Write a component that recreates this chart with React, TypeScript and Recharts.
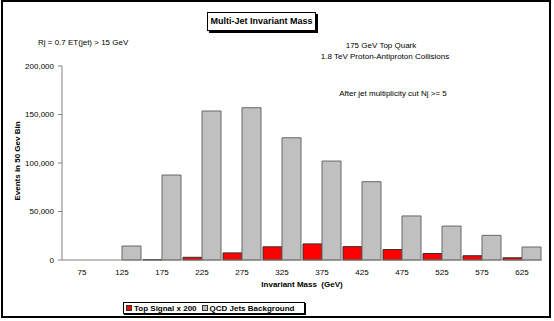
import { BarChart, Bar, XAxis, YAxis } from "recharts";

const masses = [75, 125, 175, 225, 275, 325, 375, 425, 475, 525, 575, 625];
const topSignal = [0, 0, 400, 2800, 7300, 13600, 16600, 13800, 10800, 6700, 4400, 2300];
const qcdBackground = [0, 14400, 87600, 153600, 157000, 126000, 102000, 80700, 45400, 35000, 25400, 13400];
const binEdges = [100, 150, 200, 250, 300, 350, 400, 450, 500, 550, 600, 650];
const yTicks = [0, 50000, 100000, 150000, 200000];

const SERIES = [
  { key: "top", name: "Top Signal x 200", fill: "#ff0000", stroke: "#333333" },
  { key: "qcd", name: "QCD Jets Background", fill: "#c0c0c0", stroke: "#666666" },
];

const FONT = '"Liberation Sans", Arial, sans-serif';

const data = masses.map((m, i) => ({
  mass: m,
  top: topSignal[i],
  qcd: qcdBackground[i],
}));

const txt = (extra: React.CSSProperties): React.CSSProperties => ({
  position: "absolute",
  fontFamily: FONT,
  fontSize: 8,
  color: "#000",
  whiteSpace: "nowrap",
  lineHeight: "10px",
  ...extra,
});

export default function App() {
  return (
    <div
      style={{
        position: "absolute",
        left: 0,
        top: 0,
        width: 554,
        height: 321,
        background: "#fff",
        fontFamily: FONT,
      }}
    >
      <BarChart
        width={554}
        height={321}
        data={data}
        margin={{ top: 66, right: 12, bottom: 37, left: 12 }}
        barCategoryGap={1}
        barGap={0}
      >
        <XAxis
          xAxisId="b_cat"
          dataKey="mass"
          type="category"
          axisLine={false}
          tickLine={false}
          tickSize={0}
          tickMargin={5}
          height={20}
          interval={0}
          tick={{ fontSize: 8, fill: "#000", fontFamily: FONT }}
        />
        <XAxis
          xAxisId="a_edges"
          type="number"
          dataKey="mass"
          domain={[50, 650]}
          ticks={binEdges}
          tick={false}
          tickSize={4}
          height={4}
          stroke="#808080"
          allowDataOverflow
        />
        <YAxis
          width={50}
          domain={[0, 200000]}
          ticks={yTicks}
          tickSize={4}
          tickMargin={4}
          stroke="#808080"
          tickFormatter={(v: number) => v.toLocaleString("en-US")}
          tick={{ fontSize: 8, fill: "#000", fontFamily: FONT }}
        />
        {SERIES.map((s) => (
          <Bar
            key={s.key}
            xAxisId="b_cat"
            dataKey={s.key}
            name={s.name}
            fill={s.fill}
            stroke={s.stroke}
            strokeWidth={1}
            isAnimationActive={false}
          />
        ))}
      </BarChart>

      {/* outer frame */}
      <div
        style={{
          position: "absolute",
          left: 1,
          top: 0,
          width: 550,
          height: 318,
          border: "2px solid #000",
          boxSizing: "border-box",
          pointerEvents: "none",
        }}
      />

      {/* title box */}
      <div
        style={{
          position: "absolute",
          left: 207,
          top: 12,
          width: 109,
          height: 19,
          border: "1px solid #000",
          boxShadow: "2px 2px 0 #000",
          boxSizing: "border-box",
          background: "#fff",
          fontFamily: FONT,
          fontSize: 9,
          fontWeight: "bold",
          lineHeight: "17px",
          textAlign: "center",
        }}
      >
        Multi-Jet Invariant Mass
      </div>

      <div style={txt({ left: 38, top: 38 })}>Rj = 0.7 ET(jet) &gt; 15 GeV</div>
      <div style={txt({ left: 381, top: 41, transform: "translateX(-50%)" })}>175 GeV Top Quark</div>
      <div style={txt({ left: 385, top: 52, transform: "translateX(-50%)" })}>
        1.8 TeV Proton-Antiproton Collisions
      </div>
      <div style={txt({ left: 393, top: 89, transform: "translateX(-50%)" })}>
        After jet multiplicity cut Nj &gt;= 5
      </div>

      <div
        style={txt({
          left: 18,
          top: 161,
          transform: "translate(-50%, -50%) rotate(-90deg)",
          fontWeight: "bold",
        })}
      >
        Events in 50 Gev Bin
      </div>

      <div style={txt({ left: 302, top: 280, transform: "translateX(-50%)", fontWeight: "bold" })}>
        Invariant Mass&nbsp;&nbsp;(GeV)
      </div>

      {/* legend */}
      <div
        style={{
          position: "absolute",
          left: 123,
          top: 302,
          width: 182,
          height: 12,
          padding: "0 0 0 2px",
          border: "1px solid #000",
          boxShadow: "1px 1px 0 #000",
          boxSizing: "border-box",
          background: "#fff",
          display: "flex",
          alignItems: "center",
          fontFamily: FONT,
          fontSize: 8,
          fontWeight: "bold",
          whiteSpace: "nowrap",
        }}
      >
        {SERIES.map((s, i) => (
          <span key={s.key} style={{ display: "flex", alignItems: "center", marginLeft: i ? 5 : 0 }}>
            <span
              style={{
                display: "inline-block",
                width: 4,
                height: 4,
                background: s.fill,
                border: "1px solid #333",
                marginRight: 2,
              }}
            />
            {s.name}
          </span>
        ))}
      </div>
    </div>
  );
}
